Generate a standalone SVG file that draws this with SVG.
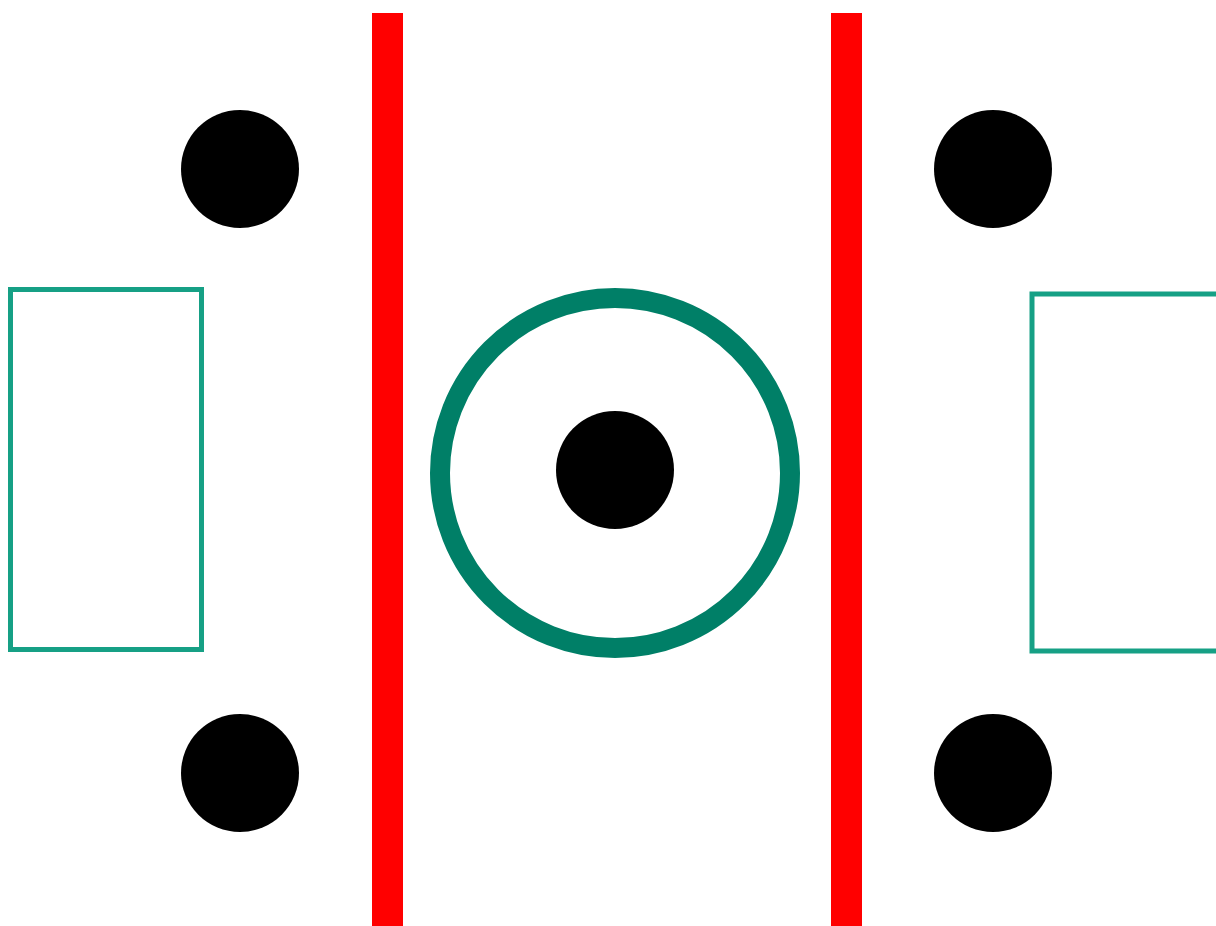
<svg xmlns="http://www.w3.org/2000/svg" width="1216" height="926" viewBox="0 0 1216 926">
<style>
.red{fill:#ff0000}
.box{fill:none;stroke:#16a085;stroke-width:5}
.dot{fill:#000}
.ring{fill:none;stroke:#007f67;stroke-width:20}
</style>
<rect width="1216" height="926" fill="#fff"/>
<rect class="red" x="372" y="13" width="31" height="913"/>
<rect class="red" x="831" y="13" width="31" height="913"/>
<rect class="box" x="10.5" y="289.5" width="191" height="360"/>
<rect class="box" x="1032" y="294" width="200" height="357"/>
<circle class="ring" cx="615" cy="473" r="175"/>
<circle class="dot" cx="615" cy="470" r="59"/>
<circle class="dot" cx="240" cy="169" r="59"/>
<circle class="dot" cx="993" cy="169" r="59"/>
<circle class="dot" cx="240" cy="773" r="59"/>
<circle class="dot" cx="993" cy="773" r="59"/>
</svg>
